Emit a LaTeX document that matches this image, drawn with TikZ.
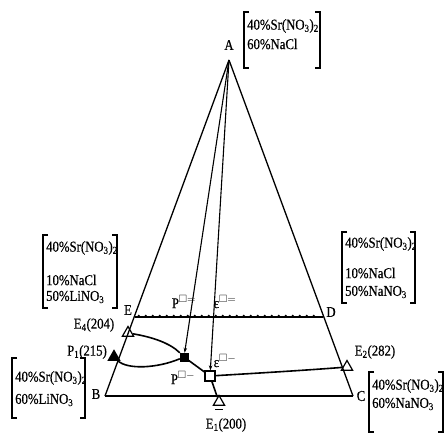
\documentclass[tikz,border=0pt]{standalone}
\usepackage{fontspec}
\setmainfont{Liberation Serif}
\newfontfamily\heavy{Liberation Serif}[FakeBold=0.5,FakeStretch=0.85]
\usepackage{amssymb}
\usetikzlibrary{shapes.geometric,decorations.markings,arrows.meta}
\begin{document}
\begin{tikzpicture}[x=1pt,y=-1pt,
  edge/.style={line width=1.3pt},
  curve/.style={line width=1.6pt},
  arr/.style={line width=1.1pt,-{Stealth[length=5pt,width=3.5pt]}},
  lbl/.style={font=\heavy\fontsize{15}{16}\selectfont,inner sep=0pt},
  comp/.style={font=\heavy\fontsize{15}{16}\selectfont,inner sep=0pt,anchor=west},
  brk/.style={line width=1.3pt},
  otri/.style={draw,regular polygon,regular polygon sides=3,minimum size=13pt,inner sep=0pt,line width=1.2pt},
  ftri/.style={otri,fill=black},
  fsq/.style={draw,fill=black,rectangle,minimum size=8pt,inner sep=0pt},
  osq/.style={draw,fill=white,rectangle,minimum size=10pt,inner sep=0pt,line width=1.2pt},
  beads/.style={line width=1.6pt,postaction={decorate},decoration={markings,
     mark=between positions 0.02 and 0.98 step 7pt with {\fill (0pt,1.3pt) circle (1.1pt);}}}
]
\useasboundingbox (0,0) rectangle (445,434);

% vertices
\coordinate (A) at (229,60);
\coordinate (B) at (105,396);
\coordinate (C) at (353,396);
\coordinate (E) at (135,317);
\coordinate (D) at (323,317);

% markers
\node[otri] (E4) at (128,333) {};
\node[ftri] (P1) at (114,357) {};
\node[otri] (E2) at (347,367) {};
\node[otri] (E1) at (219,402) {};
\node[fsq] (Pm) at (184,357) {};
\node[osq] (em) at (210,376) {};

% triangle
\draw[edge] (A) -- (B);
\draw[edge] (A) -- (C);
\draw[line width=1.8pt] (B) -- (C);
\draw[beads] (E) -- (D);

% curves
\draw[curve] (E4) .. controls (152,337) and (170,343) .. (Pm);
\draw[curve] (P1.south east) .. controls (128,370) and (158,368) .. (Pm);
\draw[curve] (Pm) -- (em);
\draw[curve] (em) -- (E1);
\draw[curve] (em) .. controls (260,373) and (310,370) .. (E2);
\draw[line width=1.1pt] ([xshift=-4pt,yshift=-4pt]E1.south) -- ([xshift=4pt,yshift=-4pt]E1.south);

% arrows from apex
\draw[arr] (A) -- (Pm);
\draw[arr] (A) -- (em);

% vertex labels
\node[lbl] (lA) at (229,45) {A};
\node[lbl] (lB) at (96,394) {B};
\node[lbl] (lC) at (361,396) {C};
\node[lbl] (lE) at (128,310) {E};
\node[lbl] (lD) at (331,312) {D};

% point labels
\node[lbl] (lE4) at (94,325) {E\textsubscript{4}(204)};
\node[lbl] (lP1) at (87,352) {P\textsubscript{1}(215)};
\node[lbl] (lE2) at (375,352) {E\textsubscript{2}(282)};
\node[lbl] (lE1) at (226,425) {E\textsubscript{1}(200)};
\node[lbl] (lPe) at (184,302) {P$^{\square=}$};
\node[lbl] (lee) at (225,302) {ε$^{\square=}$};
\node[lbl] (lPm) at (183,378) {P$^{\square-}$};
\node[lbl] (lem) at (225,361) {ε$^{\square-}$};

% composition brackets
% top (A)
\draw[brk] (249,12) -- (244,12) -- (244,68) -- (249,68);
\draw[brk] (315,12) -- (320,12) -- (320,68) -- (315,68);
\node[comp] (tA1) at (247,26) {40\%Sr(NO\textsubscript{3})\textsubscript{2}};
\node[comp] (tA2) at (247,44) {60\%NaCl};
% left middle (E)
\draw[brk] (48,235) -- (43,235) -- (43,308) -- (48,308);
\draw[brk] (112,235) -- (117,235) -- (117,308) -- (112,308);
\node[comp] (tE1) at (46,248) {40\%Sr(NO\textsubscript{3})\textsubscript{2}};
\node[comp] (tE2) at (46,280) {10\%NaCl};
\node[comp] (tE3) at (46,297) {50\%LiNO\textsubscript{3}};
% right middle (D)
\draw[brk] (347,232) -- (342,232) -- (342,303) -- (347,303);
\draw[brk] (410,232) -- (415,232) -- (415,303) -- (410,303);
\node[comp] (tD1) at (345,244) {40\%Sr(NO\textsubscript{3})\textsubscript{2}};
\node[comp] (tD2) at (345,273) {10\%NaCl};
\node[comp] (tD3) at (345,292) {50\%NaNO\textsubscript{3}};
% bottom left (B)
\draw[brk] (17,358) -- (12,358) -- (12,418) -- (17,418);
\draw[brk] (80,358) -- (85,358) -- (85,418) -- (80,418);
\node[comp] (tB1) at (15,378) {40\%Sr(NO\textsubscript{3})\textsubscript{2}};
\node[comp] (tB2) at (15,400) {60\%LiNO\textsubscript{3}};
% bottom right (C)
\draw[brk] (374,372) -- (369,372) -- (369,432) -- (374,432);
\draw[brk] (438,372) -- (443,372) -- (443,432) -- (438,432);
\node[comp] (tC1) at (372,386) {40\%Sr(NO\textsubscript{3})\textsubscript{2}};
\node[comp] (tC2) at (372,404) {60\%NaNO\textsubscript{3}};
\end{tikzpicture}
\end{document}
